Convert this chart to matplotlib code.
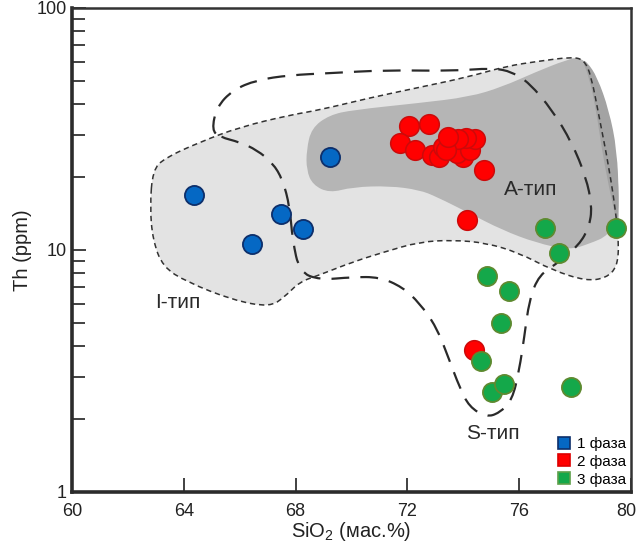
import numpy as np
import matplotlib
matplotlib.use('Agg')
import matplotlib.pyplot as plt
from matplotlib.path import Path
from matplotlib.patches import PathPatch
from matplotlib.lines import Line2D
from matplotlib.ticker import FixedLocator, NullFormatter
from matplotlib.transforms import ScaledTranslation

plt.rcParams['font.family'] = ['Liberation Sans', 'DejaVu Sans']
plt.rcParams['mathtext.fontset'] = 'custom'
plt.rcParams['mathtext.rm'] = 'Liberation Sans'

# phase 1
sio2_1 = [64.37, 66.45, 67.46, 68.26, 69.24]
th_1 = [16.8, 10.6, 14.1, 12.2, 24.3]

# phase 2
sio2_2 = [74.39, 74.15, 74.75, 72.05, 72.76, 71.74, 72.26, 72.88, 73.14, 73.26,
          73.98, 73.76, 74.24, 74.43, 74.10, 73.81, 73.38, 73.45]
th_2 = [3.86, 13.3, 21.5, 32.5, 33.2, 27.6, 25.9, 24.6, 24.3, 26.7,
        24.2, 25.1, 25.9, 28.7, 29.0, 28.8, 25.9, 29.4]

# phase 3
sio2_3 = [76.93, 79.45, 77.43, 74.85, 75.64, 75.35, 74.63, 75.02, 75.44, 77.85]
th_3 = [12.3, 12.3, 9.69, 7.81, 6.79, 5.01, 3.49, 2.60, 2.79, 2.72]

# I-type field (light grey, short dashes)
i_x = [62.89, 63.32, 64.57, 66.0, 67.79, 68.86, 70.64, 72.43, 74.21, 75.54, 76.71, 77.89,
       78.32, 78.57, 78.86, 79.21, 79.46, 79.57, 79.5, 79.11, 78.39, 77.18, 76.0, 74.82,
       73.61, 72.43, 71.18, 70.04, 68.86, 68.14, 67.61, 67.07, 65.75, 64.11, 63.25, 62.89, 62.79]
i_th = [21.4, 24.0, 27.9, 32.2, 36.1, 37.9, 42.5, 47.0, 52.0, 57.5, 60.3, 62.8,
        61.0, 52.8, 35.5, 22.0, 14.2, 10.5, 8.51, 7.66, 7.45, 8.26, 9.72, 10.7,
        11.0, 10.8, 9.82, 8.92, 7.89, 7.38, 6.40, 5.81, 6.21, 7.38, 8.51, 11.0, 15.1]

# A-type field (dark grey)
a_x = [68.39, 68.57, 69.21, 70.04, 72.43, 74.21, 75.39, 76.61, 77.68, 78.21, 78.68, 79.14,
       79.43, 79.57, 79.54, 79.21, 78.5, 77.79, 76.61, 75.39, 74.21, 73.04, 72.43, 71.36,
       70.04, 69.21, 68.61, 68.39]
a_th = [25.9, 31.9, 36.1, 37.9, 40.5, 42.9, 47.2, 54.5, 61.0, 62.8, 54.5, 39.7,
        27.2, 17.7, 14.0, 11.5, 10.6, 10.0, 10.7, 12.1, 14.2, 16.6, 17.7, 18.4,
        18.2, 17.2, 18.6, 21.4]

# darker strip on the right edge of the A-type field
strip_x = [78.25, 78.5, 78.75, 78.96, 79.21, 79.43, 79.54, 79.57, 79.5, 79.21, 78.79, 78.43]
strip_th = [61.0, 51.9, 37.9, 25.9, 18.2, 14.0, 11.9, 16.1, 25.9, 37.9, 51.9, 59.8]

# S-type field (long dashes)
s_x = [65.0, 65.18, 65.75, 66.61, 67.79, 69.21, 71.25, 73.61, 75.04, 75.75, 76.36, 77.18,
       77.89, 78.39, 78.61, 78.5, 78.14, 77.43, 76.71, 76.36, 76.18, 76.0, 75.75, 75.29,
       74.82, 74.21, 73.86, 73.5, 73.04, 72.43, 71.82, 71.0, 70.04, 68.86, 68.14, 67.89,
       67.79, 67.54, 67.18, 66.61, 66.0, 65.29]
s_th = [31.3, 39.0, 45.8, 50.4, 52.8, 53.8, 55.4, 54.9, 56.5, 54.5, 49.0, 37.9,
        27.7, 20.0, 15.1, 12.4, 10.5, 8.92, 7.89, 6.21, 4.36, 3.19, 2.40, 2.12,
        2.04, 2.25, 2.72, 3.51, 4.81, 6.04, 7.03, 7.73, 7.73, 7.52, 8.11, 11.0,
        15.1, 19.5, 22.9, 25.9, 27.9, 29.3]


def smooth_closed(xs, ys):
    # closed quadratic-bezier outline (midpoints in log space for the log axis)
    lx = np.array(xs, dtype=float)
    ly = np.log10(np.array(ys, dtype=float))
    mx = (lx + np.roll(lx, -1)) / 2
    my = (ly + np.roll(ly, -1)) / 2
    verts = [(mx[-1], my[-1])]
    codes = [Path.MOVETO]
    for i in range(len(lx)):
        verts += [(lx[i], ly[i]), (mx[i], my[i])]
        codes += [Path.CURVE3, Path.CURVE3]
    verts = np.array(verts)
    verts[:, 1] = 10 ** verts[:, 1]
    return Path(verts, codes)


fig = plt.figure(figsize=(6.38, 5.44), dpi=100)
ax = fig.add_axes([72 / 638, 1 - 492 / 544, 559 / 638, 484 / 544])
ax.set_yscale('log')
ax.set_xlim(60, 80)
ax.set_ylim(1, 100)

ax.add_patch(PathPatch(smooth_closed(i_x, i_th), facecolor='#e3e3e3', edgecolor='none', zorder=1))
ax.add_patch(PathPatch(smooth_closed(a_x, a_th), facecolor='#b5b5b5', edgecolor='none', zorder=2))
ax.add_patch(PathPatch(smooth_closed(strip_x, strip_th), facecolor='#a3a3a3', edgecolor='none', zorder=2))
ax.add_patch(PathPatch(smooth_closed(i_x, i_th), facecolor='none', edgecolor='#333333',
                       lw=1.1, linestyle=(0, (3.5, 2.5)), zorder=3))
ax.add_patch(PathPatch(smooth_closed(s_x, s_th), facecolor='none', edgecolor='#2a2a2a',
                       lw=1.6, linestyle=(0, (8, 5)), zorder=3))

ax.scatter(sio2_1, th_1, s=190, c='#0568c4', edgecolors='#0d2f6b', linewidths=1.3, zorder=5)
ax.scatter(sio2_2, th_2, s=200, c='#ff0000', edgecolors='#cc0a0a', linewidths=1.1, zorder=6)
ax.scatter(sio2_3, th_3, s=190, c='#14a84a', edgecolors='#5e8a30', linewidths=1.3, zorder=7)

ax.text(63.8, 6.04, 'I-тип', fontsize=15, color='#2a2a2a', ha='center', va='center', zorder=8)
ax.text(76.4, 17.7, 'A-тип', fontsize=15, color='#2a2a2a', ha='center', va='center', zorder=8)
ax.text(75.04, 1.75, 'S-тип', fontsize=15, color='#2a2a2a', ha='center', va='center', zorder=8)

handles = [
    Line2D([], [], ls='none', marker='s', markersize=8, markerfacecolor='#0568c4',
           markeredgecolor='#0d2f6b', markeredgewidth=1.2, label='1 фаза'),
    Line2D([], [], ls='none', marker='s', markersize=8, markerfacecolor='#ff0000',
           markeredgecolor='#dd0000', markeredgewidth=1.2, label='2 фаза'),
    Line2D([], [], ls='none', marker='s', markersize=8, markerfacecolor='#14a84a',
           markeredgecolor='#5ea04a', markeredgewidth=1.2, label='3 фаза'),
]
ax.legend(handles=handles, loc='lower right', bbox_to_anchor=(1.0, 0.0), frameon=False,
          fontsize=11, handlelength=0.8, handletextpad=0.4, labelspacing=0.25,
          borderaxespad=0.15, borderpad=0.2)

ax.xaxis.set_major_locator(FixedLocator([60, 64, 68, 72, 76, 80]))
ax.set_xticklabels(['60', '64', '68', '72', '76', '80'])
ax.yaxis.set_major_locator(FixedLocator([1, 10, 100]))
ax.set_yticklabels(['1', '10', '100'])
minor = [m * d for d in (1, 10) for m in range(2, 10)]
ax.yaxis.set_minor_locator(FixedLocator(minor))
ax.yaxis.set_minor_formatter(NullFormatter())
ax.tick_params(axis='both', which='major', direction='in', length=10, width=1.3,
               color='#333333', labelsize=13, labelcolor='#222222')
ax.tick_params(axis='y', which='minor', direction='in', length=9, width=1.3, color='#333333')
ax.tick_params(axis='x', which='major', pad=8)
ax.tick_params(axis='y', which='major', pad=4)

# keep the last x label inside the canvas
last = ax.get_xticklabels()[-1]
last.set_transform(last.get_transform() + ScaledTranslation(-5 / 100, 0, fig.dpi_scale_trans))

for side in ('left', 'bottom'):
    ax.spines[side].set_linewidth(2.6)
    ax.spines[side].set_color('#2b2b2b')
for side in ('top', 'right'):
    ax.spines[side].set_linewidth(1.8)
    ax.spines[side].set_color('#333333')

ax.set_xlabel('SiO$_2$ (мас.%)', fontsize=14.5, color='#222222', labelpad=0)
ax.set_ylabel('Th (ppm)', fontsize=14.5, color='#222222', labelpad=3)

fig.savefig('out.png', dpi=100)
